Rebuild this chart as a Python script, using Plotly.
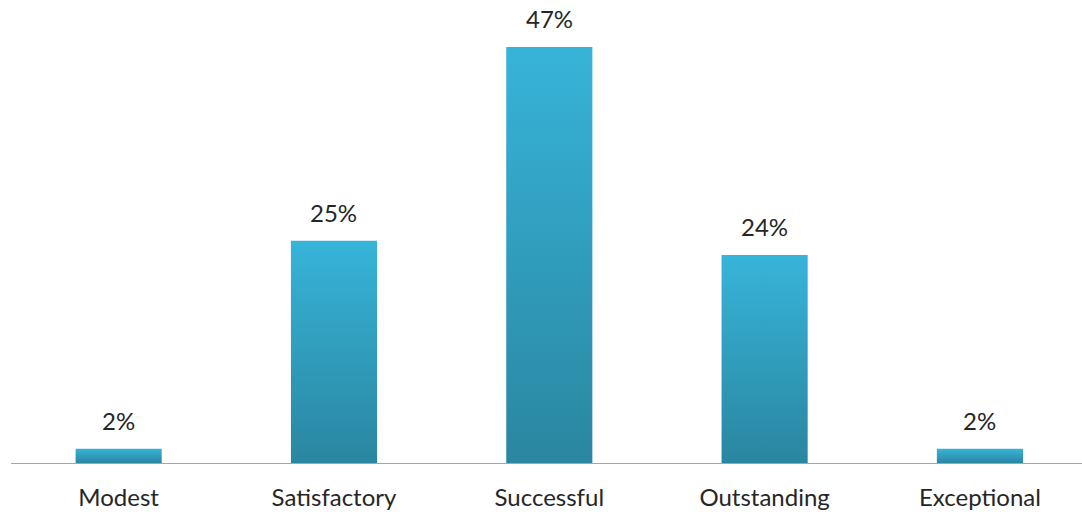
import plotly.graph_objects as go

categories = ["Modest", "Satisfactory", "Successful", "Outstanding", "Exceptional"]
values = [1.6, 25.1, 47.0, 23.5, 1.6]
value_labels = ["2%", "25%", "47%", "24%", "2%"]

BAR_W = 0.4
FONT = "Lato, 'Open Sans', sans-serif"
TEXT_COLOR = "#262626"

fig = go.Figure()
for i, v in enumerate(values):
    x0, x1 = i - BAR_W / 2, i + BAR_W / 2
    fig.add_trace(go.Scatter(
        x=[x0, x1, x1, x0, x0],
        y=[0, 0, v, v, 0],
        mode="lines",
        line=dict(width=0),
        fill="toself",
        fillgradient=dict(type="vertical",
                          colorscale=[[0, "#2A86A0"], [1, "#37B4D9"]]),
        hoverinfo="skip",
        showlegend=False,
    ))

annotations = []
for i, (v, t) in enumerate(zip(values, value_labels)):
    annotations.append(dict(
        x=i, y=v, xref="x", yref="y", text=t, showarrow=False,
        yanchor="bottom", yshift=12,
        font=dict(family=FONT, size=24, color=TEXT_COLOR),
    ))

fig.update_layout(
    width=1082, height=514,
    margin=dict(l=11, r=0, t=0, b=51),
    paper_bgcolor="white", plot_bgcolor="white",
    showlegend=False,
    annotations=annotations,
    xaxis=dict(
        range=[-0.5, 4.474],
        tickmode="array",
        tickvals=list(range(len(categories))),
        ticktext=categories,
        showgrid=False, zeroline=False,
        showline=True, linecolor="#A6A6A6", linewidth=1,
        ticks="outside", ticklen=13, tickcolor="rgba(0,0,0,0)",
        tickfont=dict(family=FONT, size=24, color=TEXT_COLOR),
        fixedrange=True,
    ),
    yaxis=dict(
        range=[0, 52.3],
        showgrid=False, zeroline=False, showline=False,
        showticklabels=False, ticks="",
        fixedrange=True,
    ),
)

fig.write_html("out.html")
